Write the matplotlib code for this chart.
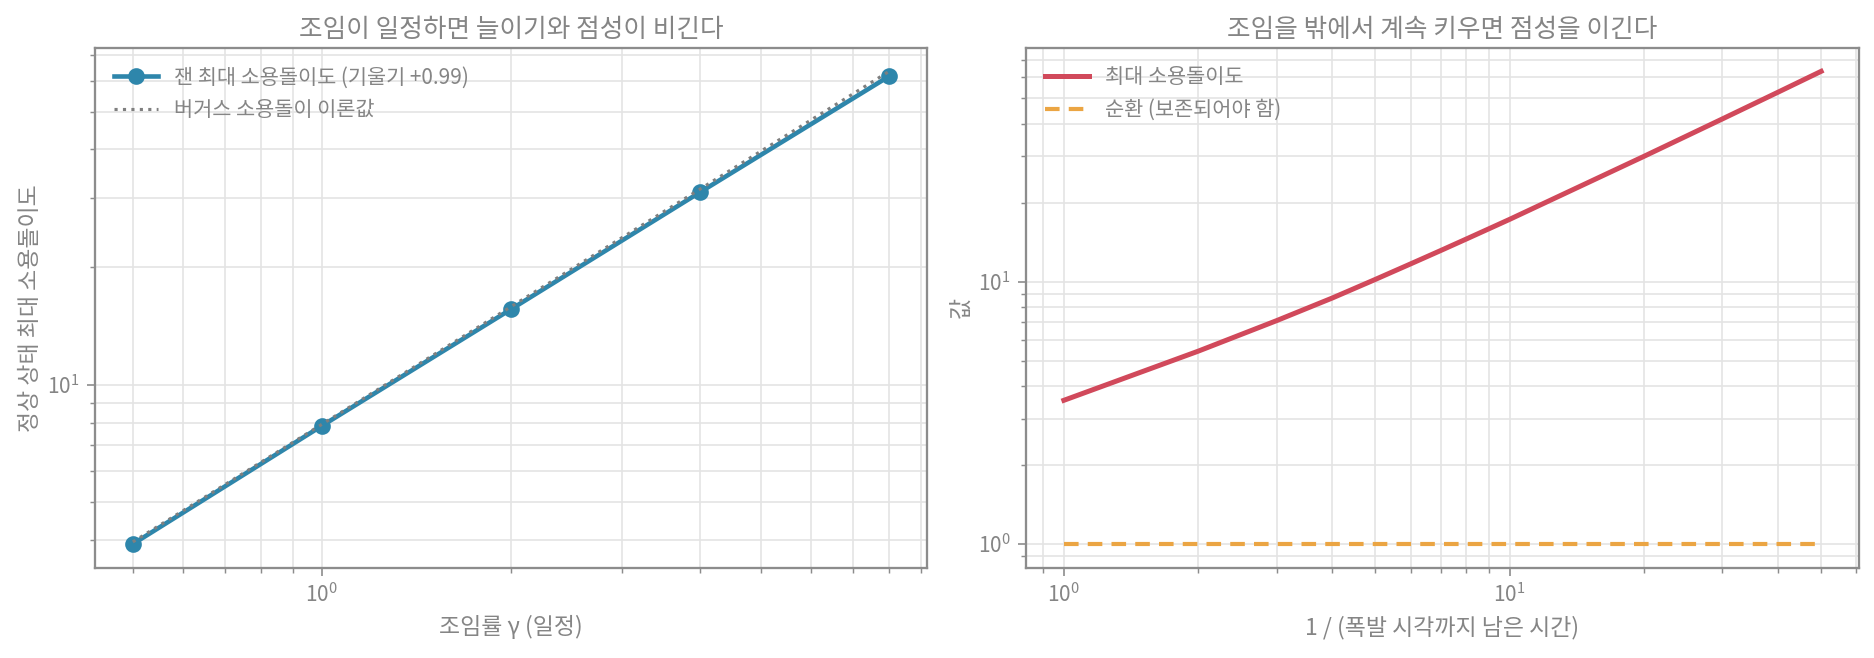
import matplotlib
matplotlib.use("Agg")
import matplotlib.pyplot as plt
from matplotlib.ticker import NullFormatter

# ---- data ----
gamma = [0.5, 1, 2, 4, 8]
omega_measured = [3.91, 7.85, 15.6, 31.1, 61.6]
omega_burgers = [3.96, 7.92, 15.84, 31.68, 63.4]

inv_tau = [1, 2, 3, 4, 5, 6, 7, 8, 9, 10, 20, 30, 40, 50]
omega_max = [3.53, 5.43, 7.10, 8.66, 10.2, 11.69, 13.13, 14.54, 15.92, 17.27, 30.0, 41.67, 52.7, 63.3]
circulation = [1.0] * len(inv_tau)

left_title = "조임이 일정하면 늘이기와 점성이 비긴다"
right_title = "조임을 밖에서 계속 키우면 점성을 이긴다"
left_xlabel = "조임률 γ (일정)"
left_ylabel = "정상 상태 최대 소용돌이도"
right_xlabel = "1 / (폭발 시각까지 남은 시간)"
right_ylabel = "값"
lbl_measured = "잰 최대 소용돌이도 (기울기 +0.99)"
lbl_burgers = "버거스 소용돌이 이론값"
lbl_omega = "최대 소용돌이도"
lbl_circ = "순환 (보존되어야 함)"

# ---- style ----
FONT = ["Noto Sans CJK KR", "DejaVu Sans"]
plt.rcParams["font.family"] = FONT
plt.rcParams["mathtext.fontset"] = "custom"
plt.rcParams["mathtext.rm"] = "Noto Sans CJK KR"
plt.rcParams["mathtext.it"] = "Noto Sans CJK KR"
plt.rcParams["mathtext.bf"] = "Noto Sans CJK KR"
plt.rcParams["axes.unicode_minus"] = False

TEXT = "#858585"
SPINE = "#8c8c8c"
GRID = "#e4e4e4"
BLUE = "#2E86AB"
RED = "#D1495B"
ORANGE = "#EBA543"

DPI = 150
fig = plt.figure(figsize=(1874 / DPI, 658 / DPI), dpi=DPI, facecolor="white")
ax1 = fig.add_axes([95 / 1874, 1 - 567.7 / 658, (927 - 95) / 1874, (567.7 - 47.7) / 658])
ax2 = fig.add_axes([1026 / 1874, 1 - 567.7 / 658, (1859 - 1026) / 1874, (567.7 - 47.7) / 658])


def style(ax):
    ax.set_xscale("log")
    ax.set_yscale("log")
    for s in ax.spines.values():
        s.set_color(SPINE)
        s.set_linewidth(1.1)
    ax.grid(True, which="major", color=GRID, linewidth=0.8)
    ax.grid(True, which="minor", color=GRID, linewidth=0.8)
    ax.set_axisbelow(True)
    ax.tick_params(which="major", direction="out", length=4, width=0.8,
                   color=SPINE, labelcolor=TEXT, labelsize=10)
    ax.tick_params(which="minor", direction="out", length=2.5, width=0.7,
                   color=SPINE, labelcolor=TEXT)
    ax.xaxis.set_minor_formatter(NullFormatter())
    ax.yaxis.set_minor_formatter(NullFormatter())


# ---- left panel ----
style(ax1)
ax1.plot(gamma, omega_measured, color=BLUE, linewidth=2.2, marker="o",
         markersize=7, label=lbl_measured, zorder=3)
ax1.plot(gamma, omega_burgers, color="#7f7f7f", linewidth=1.5, linestyle=(0, (1, 1.7)),
         label=lbl_burgers, zorder=4)
ax1.set_title(left_title, color=TEXT, fontsize=12.3, pad=5)
ax1.set_xlabel(left_xlabel, color=TEXT, fontsize=11, labelpad=4)
ax1.set_ylabel(left_ylabel, color=TEXT, fontsize=11, labelpad=2.5)
ax1.legend(loc="upper left", frameon=False, fontsize=10, labelcolor=TEXT,
           handlelength=2.1)

# ---- right panel ----
style(ax2)
ax2.plot(inv_tau, omega_max, color=RED, linewidth=2.4, label=lbl_omega, zorder=3)
ax2.plot(inv_tau, circulation, color=ORANGE, linewidth=2.0, linestyle=(0, (3.5, 2.2)),
         label=lbl_circ, zorder=3)
ax2.set_title(right_title, color=TEXT, fontsize=12.3, pad=5)
ax2.set_xlabel(right_xlabel, color=TEXT, fontsize=11, labelpad=4)
ax2.set_ylabel(right_ylabel, color=TEXT, fontsize=11, labelpad=2.5)
ax2.legend(loc="upper left", frameon=False, fontsize=10, labelcolor=TEXT,
           handlelength=2.1)

fig.savefig("out.png", dpi=DPI, facecolor="white")
